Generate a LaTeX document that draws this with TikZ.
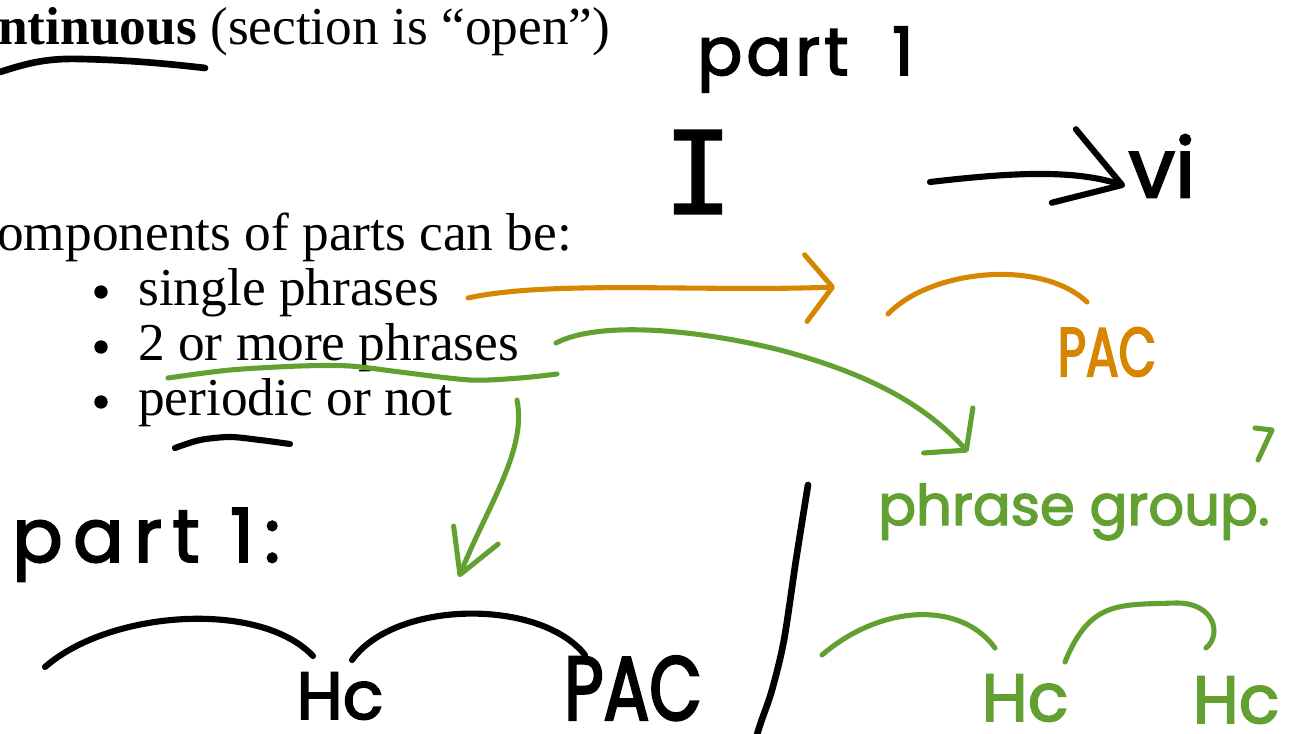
\documentclass[tikz,border=0pt]{standalone}
\usepackage{fontspec}
\setmainfont{Liberation Serif}
\newfontfamily\hand[FakeBold=2.5]{Poppins}
\newfontfamily\handmono[FakeBold=1.5]{DejaVu Sans Mono}
\usetikzlibrary{arrows.meta}
\definecolor{inkorange}{RGB}{214,134,0}
\definecolor{inkgreen}{RGB}{98,160,50}

\begin{document}
\begin{tikzpicture}[x=0.75pt,y=-0.75pt,
  typed/.style={anchor=base west,inner sep=0pt,font=\fontsize{40}{48}\selectfont},
  dot/.style={circle,fill=black,inner sep=0pt,minimum size=10pt},
  inkb/.style={draw=black,line width=4.6pt,line cap=round,line join=round},
  inko/.style={draw=inkorange,line width=3.8pt,line cap=round,line join=round},
  inkg/.style={draw=inkgreen,line width=3.8pt,line cap=round,line join=round},
  handw/.style={inner sep=0pt,font=\hand\fontsize{#1}{#1}\selectfont},
  handw/.default=40,
  barb/.style 2 args={-{Straight Barb[length=#1pt,width=#2pt,round]}},
]
\useasboundingbox (0,0) rectangle (1294,734);

% typed slide text
\node[typed] (title) at (-2,45) {\textbf{ntinuous} (section is “open”)};
\node[typed] (comp) at (-3,250) {omponents of parts can be:};
\node[dot] (b1) at (101,292) {};
\node[dot] (b2) at (101,347) {};
\node[dot] (b3) at (101,402) {};
\node[typed] (s1) at (138,305) {single phrases};
\node[typed] (s2) at (138,360) {2 or more phrases};
\node[typed] (s3) at (138,415) {periodic or not};

% handwritten labels
\node[handw=50,anchor=base west] (partA) at (697,75) {\addfontfeature{LetterSpace=6}part\ \ 1};
\node[inner sep=0pt,font=\handmono\fontsize{86}{86}\selectfont] (I) at (698,172) {I};
\node[handw=62] (vi) at (1162,166) {vi};
\node[handw=52,text=inkorange] (pacO) at (1107,352) {\addfontfeature{FakeStretch=0.7}PAC};
\node[handw=42,anchor=base west,text=inkgreen] (pg) at (878,525) {phrase group.};
\node[handw=56,anchor=base west] (partB) at (12,562) {\addfontfeature{LetterSpace=14}part\ 1:};
\node[handw=50,anchor=base] (hcB) at (340,719) {Hc};
\node[handw=68,anchor=base] (pacB) at (633,720) {\addfontfeature{FakeStretch=0.75}PAC};
\node[handw=50,anchor=base,text=inkgreen] (hcG1) at (1025,721) {Hc};
\node[handw=50,anchor=base,text=inkgreen] (hcG2) at (1236,723) {Hc};

% underlines
\draw[inkb,line width=5pt] (0,72) .. controls (25,64) and (45,58) .. (80,59)
  .. controls (130,60) and (170,64) .. (205,68);
\draw[inkg] plot[smooth] coordinates {(168,378) (230,370) (300,366) (350,366)
  (400,372) (470,380) (520,378) (557,374)};
\draw[inkb] plot[smooth] coordinates {(175,448) (200,440) (230,437) (260,440) (290,444)};

% arrows
\coordinate (oStart) at (468,298);
\coordinate (oTip) at (835,287);
\draw[inko,barb={20}{50}] (oStart) .. controls (550,280) and (700,292) .. (oTip);

\coordinate (kStart) at (930,182);
\coordinate (kTip) at (1125,186);
\draw[inkb,barb={46}{58}] (kStart) .. controls (1000,174) and (1070,168) .. (kTip);

\coordinate (gStart) at (556,343);
\coordinate (gTip) at (968,452);
\draw[inkg,barb={20}{50}] (gStart) .. controls (600,320) and (700,330) .. (780,350)
  .. controls (870,374) and (925,405) .. (gTip);

\coordinate (dStart) at (517,400);
\coordinate (dTip) at (459,577);
\draw[inkg,barb={32}{36}] (dStart) .. controls (527,450) and (488,505) .. (dTip);

% phrase arcs
\draw[inko] (888,314) .. controls (930,270) and (1040,258) .. (1087,302);
\draw[inkb] (45,667) .. controls (110,610) and (260,600) .. (313,656);
\draw[inkb] (352,660) .. controls (395,600) and (540,598) .. (585,655);
\draw[inkg] (822,655) .. controls (880,605) and (960,600) .. (995,648);
\draw[inkg] (1065,662) .. controls (1090,600) and (1120,605) .. (1175,603)
  .. controls (1215,602) and (1222,635) .. (1206,648);

% stray marks
\draw[inkg] (1255,428) -- (1272,430) -- (1258,460);
\draw[inkb,line width=5pt] plot[smooth] coordinates {(808,485) (796,560) (784,640) (772,690) (760,725) (754,745)};
\end{tikzpicture}
\end{document}
